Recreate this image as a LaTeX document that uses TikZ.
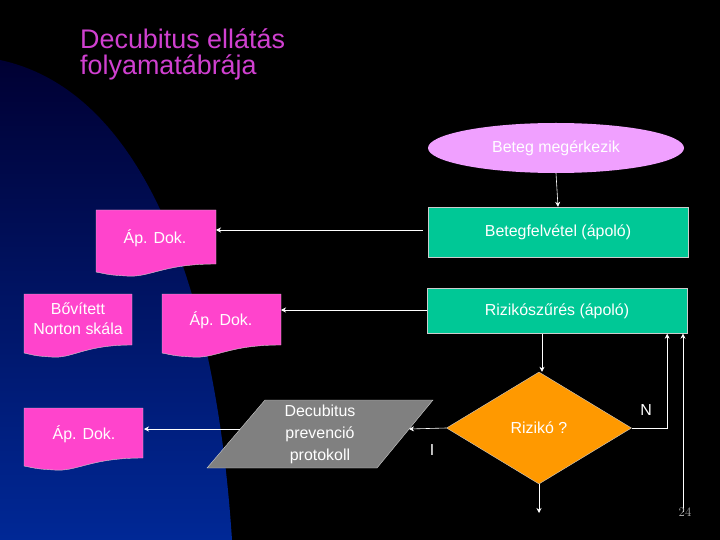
\documentclass[tikz,border=0pt]{standalone}
\usepackage{fontspec}
\setmainfont{Liberation Sans}
\usetikzlibrary{shapes.geometric, arrows.meta, positioning}
\definecolor{pinkdoc}{HTML}{FF44CC}
\definecolor{greenbox}{HTML}{00C896}
\definecolor{violetell}{HTML}{F0A0FF}
\definecolor{orangedia}{HTML}{FF9900}
\definecolor{titlecol}{HTML}{D040D0}
\tikzset{
	box/.style={draw=white!80!black, fill=greenbox, minimum width=260bp, text=white, font=\fontsize{16}{18}\selectfont},
	doctext/.style={text=white, align=center, font=\fontsize{16}{20}\selectfont},
	link/.style={white, semithick, -{Stealth[length=5bp,width=5bp]}}
}
\newcommand\docshape[4]{% left, top, right, bottom
	\fill[pinkdoc, draw=white!80!black] (#1,#2) -- (#3,#2) -- (#3,#4)
		.. controls ({#1+0.55*(#3-#1)},{#4}) and ({#1+0.45*(#3-#1)},{#4+14}) .. ({#1+0.25*(#3-#1)},{#4+12})
		.. controls ({#1+0.12*(#3-#1)},{#4+11}) .. (#1,{#4+8}) -- cycle;}
\begin{document}
\begin{tikzpicture}[x=1bp, y=-1bp]
	\useasboundingbox (0,0) rectangle (720,540);
	%BACKGROUND
	\fill[black] (0,0) rectangle (720,540);
	\shade[top color=black!80!blue, bottom color={rgb,255:red,0;green,40;blue,150}]
		(0,60) .. controls (140,90) and (215,280) .. (232,540) -- (0,540) -- cycle;

	%TITLE
	\node[anchor=north west, align=left, inner sep=0pt, text=titlecol, font=\fontsize{27}{27}\selectfont] (title) at (80,28) {Decubitus ellátás\\folyamatábrája};

	%MAIN COLUMN
	\node[ellipse, fill=violetell, minimum width=256bp, minimum height=50bp, text=white, font=\fontsize{16}{18}\selectfont] (arrive) at (556,148) {Beteg megérkezik};
	\node[box, minimum height=50bp] (admit) at (558,232) {Betegfelvétel (ápoló)};
	\node[box, minimum height=45bp] (screen) at (557,311) {Rizikószűrés (ápoló)};
	\node[diamond, aspect=1.65, fill=orangedia, draw=white!80!black, minimum width=185bp, minimum height=112bp, inner sep=0pt, text=white, font=\fontsize{16}{18}\selectfont] (risk) at (539,428) {Rizikó ?};
	\fill[black!50, draw=white!80!black] (207,468) -- (265,400) -- (433,400) -- (377,468) -- cycle;
	\node[text=white, align=center, font=\fontsize{16}{22}\selectfont] (proto) at (320,434) {Decubitus\\prevenció\\protokoll};

	%DOCUMENTS
	\docshape{96}{210}{216}{264}
	\node[doctext] (doc1) at (155,238) {Áp. Dok.};
	\docshape{24}{294}{132}{345}
	\node[doctext] (norton) at (78,319) {Bővített\\Norton skála};
	\docshape{162}{294}{281}{345}
	\node[doctext] (doc2) at (221,320) {Áp. Dok.};
	\docshape{24}{408}{143}{458}
	\node[doctext] (doc3) at (84,434) {Áp. Dok.};

	%CONNECTORS
	\coordinate (d1r) at (216,230);
	\coordinate (d2r) at (281,310);
	\coordinate (d3r) at (144,429);
	\coordinate (protoR) at (409,429);
	\coordinate (protoL) at (240,429);
	\draw[link] (arrive.south) -- (admit.north);
	\draw[link] (admit.west) ++(-5,-2) -- (d1r);
	\draw[link] (screen.west) ++(0,-1) -- (d2r);
	\draw[link] ([xshift=-15bp]screen.south) -- ([xshift=-15bp]screen.south |- risk.north);
	\draw[link] (risk.west) -- (protoR);
	\draw[link] (protoL) -- (d3r);
	\draw[link] (risk.east) -| ([xshift=-20bp]screen.south east);
	\coordinate (loopin) at (683,512);
	\draw[link] (loopin) -- (screen.south east -| loopin);
	\coordinate (down) at (539,513);
	\draw[link] (risk.south) -- (down);
	\node[text=white, font=\fontsize{16}{18}\selectfont] (yes) at (432,450) {I};
	\node[text=white, font=\fontsize{16}{18}\selectfont] (no) at (646,410) {N};
	\node[text=black!30, font=\fontfamily{lmr}\fontsize{13}{14}\selectfont] (page) at (685,512) {24};
\end{tikzpicture}
\end{document}
